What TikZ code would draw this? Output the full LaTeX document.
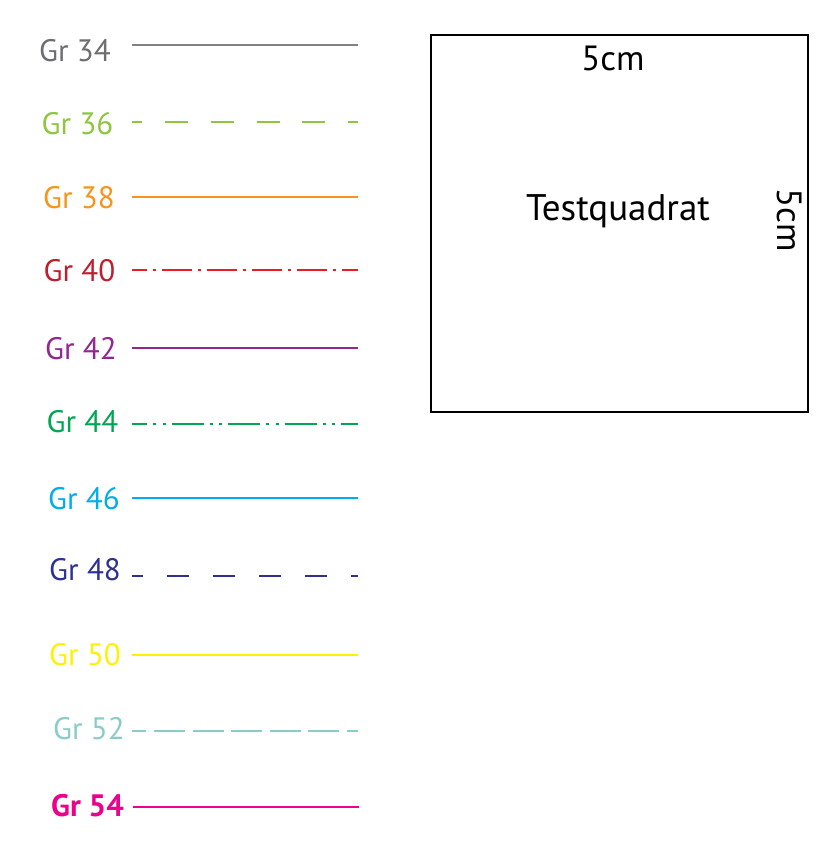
\documentclass[tikz,border=0pt]{standalone}
\usepackage{fontspec}
\setmainfont{PT Sans}
\usetikzlibrary{positioning}
\definecolor{grey34}{HTML}{6D6E71}
\definecolor{greyline}{HTML}{808285}
\definecolor{green36}{HTML}{8DC63F}
\definecolor{orange38}{HTML}{F7941D}
\definecolor{red40}{HTML}{BE1E2D}
\definecolor{redline}{HTML}{ED1C24}
\definecolor{purple42}{HTML}{92278F}
\definecolor{green44}{HTML}{00A651}
\definecolor{cyan46}{HTML}{00AEEF}
\definecolor{blue48}{HTML}{2E3192}
\definecolor{yellow50}{HTML}{FFF200}
\definecolor{teal52}{HTML}{8BCCC9}
\definecolor{pink54}{HTML}{EC008C}
\tikzset{lbl/.style = {inner sep = 0, font = \fontsize{15.5}{18}\selectfont}}
\tikzset{leg/.style = {line width = 1.2pt}}
\tikzset{dashlong/.style = {dash pattern = on 11.5pt off 11.4pt, dash phase = 6.4pt}}
\tikzset{dashnavy/.style = {dash pattern = on 11pt off 12pt, dash phase = 5.6pt}}
\tikzset{dashtight/.style = {dash pattern = on 15.5pt off 3.8pt, dash phase = 8.3pt}}
\tikzset{dashdotted/.style = {dash pattern = on 15pt off 3pt on 1.5pt off 3pt, dash phase = 7.6pt}}
\tikzset{dashdotdot/.style = {dash pattern = on 16pt off 3pt on 1.5pt off 3.25pt on 1.5pt off 3pt, dash phase = 8.5pt}}
\tikzset{big/.style = {inner sep = 0, font = \fontsize{17.5}{20}\selectfont}}

\begin{document}
\begin{tikzpicture}[x=0.5pt, y=-0.5pt]
    \useasboundingbox (0, 0) rectangle (818, 858);

    % legend
    \coordinate (a34) at (132, 45);  \coordinate (b34) at (358, 45);
    \node [lbl, text=grey34] (t34) at (75, 51) {Gr 34};
    \draw [leg, greyline] (a34) -- (b34);

    \coordinate (a36) at (132, 122); \coordinate (b36) at (358, 122);
    \node [lbl, text=green36] (t36) at (77.5, 124) {Gr 36};
    \draw [leg, green36, dashlong] (a36) -- (b36);

    \coordinate (a38) at (132, 197); \coordinate (b38) at (358, 197);
    \node [lbl, text=orange38] (t38) at (79, 198) {Gr 38};
    \draw [leg, orange38] (a38) -- (b38);

    \coordinate (a40) at (132, 270); \coordinate (b40) at (358, 270);
    \node [lbl, text=red40] (t40) at (79.5, 271) {Gr 40};
    \draw [leg, redline, dashdotted] (a40) -- (b40);

    \coordinate (a42) at (132, 348); \coordinate (b42) at (358, 348);
    \node [lbl, text=purple42] (t42) at (81, 349) {Gr 42};
    \draw [leg, purple42] (a42) -- (b42);

    \coordinate (a44) at (132, 424); \coordinate (b44) at (358, 424);
    \node [lbl, text=green44] (t44) at (82.5, 422) {Gr 44};
    \draw [leg, green44, dashdotdot] (a44) -- (b44);

    \coordinate (a46) at (132, 498); \coordinate (b46) at (358, 498);
    \node [lbl, text=cyan46] (t46) at (84, 499) {Gr 46};
    \draw [leg, cyan46] (a46) -- (b46);

    \coordinate (a48) at (132, 576); \coordinate (b48) at (358, 576);
    \node [lbl, text=blue48] (t48) at (85, 570) {Gr 48};
    \draw [leg, blue48, dashnavy] (a48) -- (b48);

    \coordinate (a50) at (132, 655); \coordinate (b50) at (358, 655);
    \node [lbl, text=yellow50] (t50) at (85, 655) {Gr 50};
    \draw [leg, yellow50] (a50) -- (b50);

    \coordinate (a52) at (132, 731); \coordinate (b52) at (358, 731);
    \node [lbl, text=teal52] (t52) at (89, 729) {Gr 52};
    \draw [leg, teal52, dashtight] (a52) -- (b52);

    \coordinate (a54) at (133, 807); \coordinate (b54) at (359, 807);
    \node [lbl, text=pink54, font=\fontsize{15.5}{18}\selectfont\bfseries] (t54) at (87.5, 806) {Gr 54};
    \draw [leg, pink54] (a54) -- (b54);

    % the square
    \node [draw, line width=1.2pt, minimum width=188.5pt, minimum height=188.5pt, inner sep=0] (quad) at (619.5, 223.5) {};
    \node [big] (top) at (613, 58) {5cm};
    \node [big, font=\fontsize{18.5}{21}\selectfont] (name) at (618, 211) {Testquadrat};
    \node [big, rotate=-90] (side) at (790, 220) {5cm};
  \end{tikzpicture}
\end{document}
